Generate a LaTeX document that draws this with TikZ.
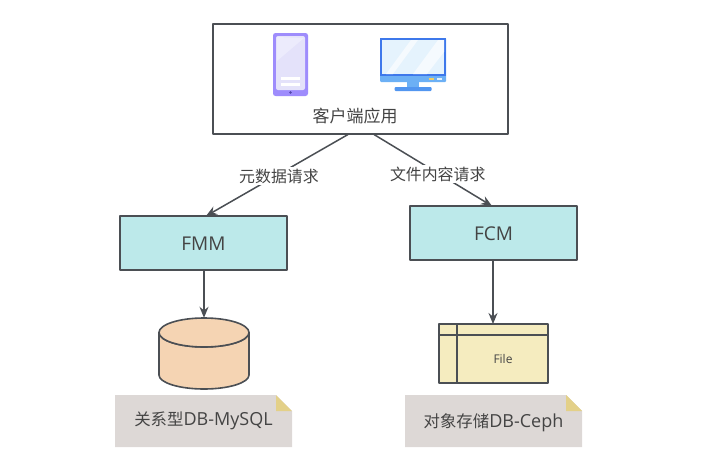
\documentclass[tikz,border=0pt]{standalone}
\usepackage{fontspec}
\setmainfont{Open Sans}
\newfontfamily\cjk{Noto Sans CJK SC}
\usetikzlibrary{arrows.meta}
\definecolor{ln}{HTML}{4B4F54}
\definecolor{tx}{HTML}{444444}
\definecolor{boxfill}{HTML}{BCE9EA}
\definecolor{dbfill}{HTML}{F5D4B3}
\definecolor{filefill}{HTML}{F5ECBF}
\definecolor{notefill}{HTML}{DDD8D6}
\definecolor{foldfill}{HTML}{E3D088}
\tikzset{
  outline/.style={draw=ln,line width=1.6pt,line join=round},
  svc/.style={outline,fill=boxfill,inner sep=0pt,minimum width=167pt,minimum height=54pt,text=tx,font=\fontsize{19}{21}\selectfont},
  conn/.style={draw=ln,line width=1.5pt,-{Stealth[length=11pt,width=9pt]}},
  lbl/.style={fill=white,text=tx,inner sep=2pt,font=\cjk\fontsize{15.9}{18}\selectfont},
  notetext/.style={text=tx,font=\fontsize{18}{19}\selectfont,inner sep=0pt},
}
\begin{document}
\begin{tikzpicture}[x=1pt,y=-1pt]
\useasboundingbox (0,0) rectangle (712,463);
% client box
\node[outline,fill=white,inner sep=0pt,minimum width=295pt,minimum height=110pt] (client) at (360.5,79) {};
\node[text=tx,inner sep=0pt,font=\cjk\fontsize{17}{18}\selectfont] (clientlabel) at (355,116) {客户端应用};
% phone
\fill[rounded corners=2.5pt,fill={rgb,255:red,158;green,140;blue,252}] (273,33) rectangle (308,96);
\fill[rounded corners=2pt,fill={rgb,255:red,228;green,226;blue,250}] (276,36) rectangle (305,90);
\fill[fill={rgb,255:red,236;green,235;blue,252}] (277,61) -- (304,38) -- (277,37) -- cycle;
\fill[white] (281,77) rectangle (300,80);
\fill[white] (281,83) rectangle (300,86);
\fill[fill={rgb,255:red,80;green,70;blue,170}] (290.5,92.5) circle (1.3pt);
% monitor
\fill[rounded corners=1pt,fill={rgb,255:red,108;green,176;blue,245}] (380,38) rectangle (446,82);
\fill[fill={rgb,255:red,62;green,120;blue,235}] (380,38) rectangle (446,76);
\fill[fill={rgb,255:red,229;green,243;blue,253}] (382,40) rectangle (444,74);
\fill[fill={rgb,255:red,245;green,250;blue,254}] (386,74) -- (411,40) -- (418,40) -- (393,74) -- cycle;
\fill[fill={rgb,255:red,245;green,250;blue,254}] (413,74) -- (438,40) -- (444,40) -- (444,52) -- (427,74) -- cycle;
\fill[fill={rgb,255:red,240;green,205;blue,100}] (429,78) rectangle (434,80);
\fill[fill={rgb,255:red,225;green,240;blue,252}] (437,78) rectangle (442,80);
\fill[fill={rgb,255:red,108;green,176;blue,245}] (407,82) rectangle (419,87);
\fill[rounded corners=1pt,fill={rgb,255:red,82;green,150;blue,240}] (394.5,87) rectangle (431.5,91);
% services
\node[svc,text depth=0pt,text height=14pt] (fmm) at (203.5,243) {FMM};
\node[svc,text depth=0pt,text height=14pt] (fcm) at (493.5,233) {FCM};
% database
\node[inner sep=0pt,minimum width=90pt,minimum height=71pt] (db) at (204,353.5) {};
\path[outline,fill=dbfill] (159,332.5) arc[x radius=45pt,y radius=14.5pt,start angle=180,end angle=360]
  -- (249,375) arc[x radius=45pt,y radius=14pt,start angle=0,end angle=-180] -- cycle;
\path[outline,fill=dbfill] (204,332.5) ellipse[x radius=45pt,y radius=14.5pt];
% file
\node[outline,fill=filefill,inner sep=0pt,minimum width=109pt,minimum height=59pt] (file) at (493.5,353.5) {};
\draw[outline] (439,335) -- (548,335);
\draw[outline] (457,324) -- (457,383);
\node[text=tx,inner sep=0pt,font=\fontsize{12}{14}\selectfont] (filelabel) at (503,359) {File};
% notes
\fill[notefill] (115,395) -- (276,395) -- (292,411) -- (292,447) -- (115,447) -- cycle;
\fill[foldfill] (276,395) -- (292,411) -- (276,411) -- cycle;
\node[notetext] (note1) at (203.5,421) {{\cjk\fontsize{16.4}{19}\selectfont 关系型}DB-MySQL};
\fill[notefill] (405,395) -- (566,395) -- (582,411) -- (582,447) -- (405,447) -- cycle;
\fill[foldfill] (566,395) -- (582,411) -- (566,411) -- cycle;
\node[notetext] (note2) at (493.5,422.5) {{\cjk\fontsize{16.4}{19}\selectfont 对象存储}DB-Ceph};
% connectors
\coordinate (c1) at (348,134.5);
\coordinate (c2) at (374,134.5);
\coordinate (t1) at (206,216);
\coordinate (t2) at (492,206);
\coordinate (s3) at (493,260);
\coordinate (e3) at (493,324);
\draw[conn] (c1) -- node[lbl,pos=0.486,yshift=-2pt] {元数据请求} (t1);
\draw[conn] (c2) -- node[lbl,pos=0.54,yshift=-1pt] {文件内容请求} (t2);
\draw[conn] (fmm.south) ++(0.5,0) -- (db.north);
\draw[conn] (s3) -- (e3);
\end{tikzpicture}
\end{document}
